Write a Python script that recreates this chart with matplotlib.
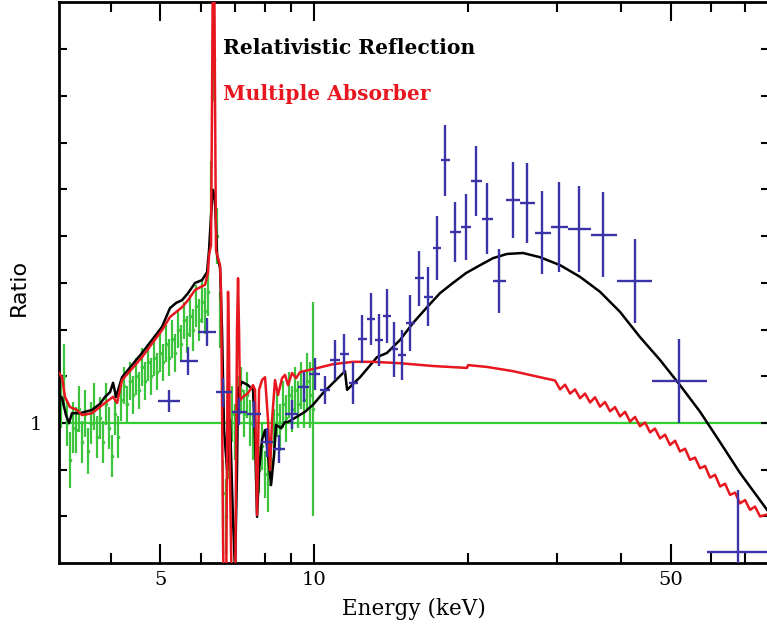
import numpy as np
import matplotlib
matplotlib.use("Agg")
import matplotlib.pyplot as plt
from matplotlib.ticker import FixedLocator, FixedFormatter, NullFormatter

# ---------------- data ----------------
# XMM-like green ratio data (3-10 keV)
green_E = [3.19, 3.234, 3.278, 3.323, 3.369, 3.414, 3.461, 3.508, 3.556, 3.605,
           3.654, 3.704, 3.754, 3.806, 3.858, 3.910, 3.963, 4.018, 4.073, 4.128,
           4.185, 4.242, 4.299, 4.358, 4.418, 4.477, 4.539, 4.600, 4.663, 4.727,
           4.791, 4.857, 4.923, 4.989, 5.058, 5.127, 5.196, 5.267, 5.339, 5.412,
           5.486, 5.561, 5.637, 5.714, 5.791, 5.870, 5.950, 6.032, 6.114, 6.197,
           6.281, 6.367, 6.454, 6.542, 6.632, 6.722, 6.813, 6.906, 7.001, 7.096,
           7.193, 7.291, 7.390, 7.491, 7.593, 7.697, 7.802, 7.908, 8.016, 8.125,
           8.236, 8.348, 8.462, 8.577, 8.694, 8.813, 8.933, 9.055, 9.178, 9.304,
           9.431, 9.559, 9.690, 9.822, 9.955]
green_ratio = [1.04, 1.10, 1.00, 0.92, 0.99, 0.985, 1.03, 0.96, 1.02, 0.94,
               1.00, 1.035, 0.97, 1.01, 0.96, 1.04, 0.99, 0.93, 1.02, 0.97,
               1.05, 1.08, 1.04, 1.09, 1.06, 1.10, 1.07, 1.12, 1.09, 1.13,
               1.10, 1.14, 1.11, 1.15, 1.13, 1.17, 1.14, 1.18, 1.15, 1.20,
               1.17, 1.22, 1.19, 1.23, 1.20, 1.25, 1.22, 1.26, 1.24, 1.28,
               1.50, 1.78, 1.40, 1.22, 0.85, 0.80, 0.95, 1.02, 0.98, 1.05,
               1.07, 1.02, 1.06, 1.00, 0.97, 0.93, 0.90, 0.95, 0.89, 0.87,
               0.92, 0.98, 1.02, 0.99, 1.04, 1.01, 1.06, 1.03, 1.07, 1.04,
               1.08, 1.05, 1.09, 1.06, 1.03]
green_err = [0.05, 0.07, 0.05, 0.06, 0.055, 0.05, 0.05, 0.045, 0.05, 0.05,
             0.045, 0.05, 0.045, 0.045, 0.045, 0.045, 0.045, 0.045, 0.045, 0.045,
             0.045, 0.04, 0.04, 0.04, 0.04, 0.04, 0.04, 0.04, 0.04, 0.04,
             0.04, 0.04, 0.04, 0.04, 0.04, 0.04, 0.04, 0.04, 0.04, 0.04,
             0.04, 0.04, 0.04, 0.045, 0.045, 0.045, 0.045, 0.045, 0.05, 0.05,
             0.06, 0.09, 0.06, 0.06, 0.07, 0.08, 0.07, 0.06, 0.06, 0.05,
             0.05, 0.05, 0.05, 0.05, 0.05, 0.05, 0.05, 0.05, 0.05, 0.06,
             0.05, 0.05, 0.05, 0.05, 0.05, 0.05, 0.05, 0.05, 0.05, 0.05,
             0.05, 0.06, 0.06, 0.07, 0.23]

# NuSTAR-like blue ratio data
blue_E = [5.20, 5.66, 6.17, 6.63, 7.13, 7.63, 8.09, 8.54, 9.06, 9.56,
          10.05, 10.51, 11.0, 11.45, 11.92, 12.42, 12.94, 13.41, 13.90, 14.35,
          14.88, 15.43, 16.07, 16.73, 17.43, 18.07, 18.91, 19.86, 20.78, 21.84,
          23.06, 24.56, 26.17, 28.0, 30.22, 33.08, 36.87, 42.6, 51.96, 67.8]
blue_edges = [4.944, 5.462, 5.923, 6.424, 6.905, 7.389, 7.873, 8.310, 8.773, 9.303,
              9.777, 10.27, 10.75, 11.25, 11.71, 12.20, 12.70, 13.17, 13.66, 14.16,
              14.61, 15.15, 15.78, 16.43, 17.12, 17.74, 18.48, 19.42, 20.32, 21.35,
              22.44, 23.80, 25.35, 27.13, 29.15, 31.48, 34.93, 39.28, 46.0, 58.96, 77.7]
blue_ratio = [1.047, 1.133, 1.195, 1.066, 1.024, 1.019, 0.959, 0.944, 1.019, 1.077,
              1.105, 1.071, 1.135, 1.148, 1.086, 1.180, 1.223, 1.178, 1.229, 1.158,
              1.146, 1.214, 1.310, 1.270, 1.375, 1.563, 1.409, 1.420, 1.518, 1.437,
              1.304, 1.478, 1.471, 1.407, 1.420, 1.415, 1.403, 1.304, 1.090, 0.724]
blue_err = [0.024, 0.030, 0.030, 0.031, 0.029, 0.029, 0.031, 0.030, 0.031, 0.032,
            0.035, 0.030, 0.042, 0.043, 0.045, 0.051, 0.055, 0.055, 0.057, 0.059,
            0.053, 0.060, 0.059, 0.063, 0.068, 0.076, 0.064, 0.071, 0.075, 0.076,
            0.068, 0.081, 0.086, 0.089, 0.096, 0.092, 0.091, 0.089, 0.090, 0.133]

# Relativistic reflection model (black)
refl_E = [3.162, 3.205, 3.263, 3.308, 3.353, 3.477, 3.671, 3.806, 3.892, 3.981,
          4.036, 4.091, 4.203, 4.397, 4.600, 4.813, 5.035, 5.219, 5.363, 5.511,
          5.662, 5.844, 6.032, 6.170, 6.225, 6.281, 6.339, 6.396, 6.454, 6.542,
          6.601, 6.662, 6.753, 6.844, 6.937, 7.001, 7.063, 7.096, 7.225, 7.423,
          7.593, 7.662, 7.732, 7.802, 7.908, 8.016, 8.125, 8.236, 8.348, 8.424,
          8.617, 8.773, 8.892, 9.178, 9.602, 9.955, 10.41, 10.90, 11.50, 11.61,
          12.31, 13.29, 13.90, 14.75, 15.63, 16.66, 17.66, 18.73, 19.86, 21.17,
          22.44, 23.90, 25.70, 27.74, 30.37, 33.23, 36.37, 39.81, 43.56, 47.69,
          52.19, 57.14, 62.53, 68.44, 77.32]
refl_ratio = [1.060, 1.054, 1.017, 1.000, 1.021, 1.021, 1.028, 1.041, 1.056, 1.066,
              1.086, 1.056, 1.098, 1.124, 1.150, 1.178, 1.206, 1.246, 1.257, 1.263,
              1.278, 1.300, 1.306, 1.323, 1.370, 1.445, 1.499, 1.478, 1.360, 1.332,
              1.199, 0.985, 0.899, 1.006, 0.792, 0.685, 0.899, 1.071, 1.088, 1.081,
              1.071, 0.964, 0.799, 0.899, 0.964, 0.985, 0.931, 0.867, 0.931, 0.996,
              0.989, 1.002, 1.002, 1.011, 1.024, 1.039, 1.064, 1.086, 1.111, 1.071,
              1.098, 1.141, 1.150, 1.178, 1.214, 1.248, 1.278, 1.300, 1.321, 1.338,
              1.353, 1.362, 1.364, 1.355, 1.338, 1.313, 1.281, 1.238, 1.184, 1.135,
              1.081, 1.024, 0.959, 0.893, 0.814]

# Multiple absorber model (red), smooth part
absb_E = [3.162, 3.205, 3.249, 3.323, 3.430, 3.508, 3.671, 3.892, 4.036, 4.110,
          4.203, 4.600, 5.035, 5.219, 5.511, 5.662, 5.844, 6.114, 6.197, 6.225,
          6.281, 6.310, 6.339, 6.367, 6.396, 6.424, 6.483, 6.542, 6.571, 6.601,
          6.632, 6.662, 6.722, 6.753, 6.783, 6.813, 6.844, 6.906, 7.001, 7.063,
          7.096, 7.128, 7.160, 7.258, 7.423, 7.593, 7.662, 7.732, 7.802, 7.908,
          8.016, 8.125, 8.199, 8.273, 8.385, 8.500, 8.656, 8.773, 8.892, 9.055,
          9.220, 9.388, 9.732, 10.18, 10.90, 11.92, 13.05, 14.75, 17.12, 19.86,
          19.95, 20.05, 21.84, 24.56, 27.74]
absb_ratio = [1.107, 1.098, 1.056, 1.034, 1.028, 1.017, 1.021, 1.043, 1.056, 1.043,
              1.092, 1.141, 1.199, 1.227, 1.248, 1.263, 1.285, 1.296, 1.323, 1.360,
              1.381, 1.692, 2.05, 2.05, 1.692, 1.370, 1.353, 1.338, 1.285, 1.049,
              0.749, 0.60, 0.60, 0.942, 1.281, 1.156, 0.878, 0.60, 0.60, 1.199,
              1.310, 1.199, 1.049, 1.056, 1.064, 1.081, 1.071, 0.803, 1.071, 1.092,
              1.098, 1.006, 0.899, 1.006, 1.092, 1.060, 1.096, 1.103, 1.081, 1.107,
              1.096, 1.109, 1.113, 1.118, 1.126, 1.131, 1.131, 1.128, 1.122, 1.118,
              1.118, 1.124, 1.120, 1.111, 1.098]
# Multiple absorber model (red), jagged high-energy part
absb_hi_E = [29.69, 30.37, 31.06, 31.77, 32.49, 33.23, 33.99, 34.77, 35.56, 36.37,
             37.20, 38.05, 38.92, 39.81, 40.72, 41.65, 42.60, 43.56, 44.57, 45.59,
             46.62, 47.69, 48.78, 49.89, 51.04, 52.19, 53.39, 54.61, 55.85, 57.14,
             58.44, 59.77, 61.14, 62.53, 63.96, 65.42, 66.91, 68.44, 70.00, 71.60,
             73.23, 74.90, 77.32]
absb_hi_ratio = [1.091, 1.072, 1.082, 1.063, 1.072, 1.053, 1.063, 1.044, 1.055, 1.035,
                 1.045, 1.025, 1.034, 1.014, 1.024, 1.003, 1.013, 0.993, 1.001, 0.980,
                 0.988, 0.967, 0.975, 0.953, 0.962, 0.939, 0.945, 0.921, 0.926, 0.903,
                 0.908, 0.883, 0.889, 0.864, 0.870, 0.846, 0.851, 0.828, 0.835, 0.814,
                 0.821, 0.800, 0.804]

x_major = [5, 10, 50]
x_major_labels = ["5", "10", "50"]
x_minor = [4, 6, 7, 8, 9, 20, 30, 40, 60, 70]
y_ticks = [0.8, 0.9, 1.1, 1.2, 1.3, 1.4, 1.5, 1.6, 1.7, 1.8]

# ---------------- style ----------------
GREEN = "#3cc43c"
LINE_GREEN = "#2fd02f"
RED = "#e8161e"
BLUE = "#3b33a8"

W, H = 767, 628
fig = plt.figure(figsize=(W / 100, H / 100), dpi=100)
ax = fig.add_axes([59 / W, 65 / H, 710 / W, 561 / H])
ax.set_xscale("log")
ax.set_xlim(3.162, 78.0)
ax.set_ylim(0.7002, 1.9015)

ax.axhline(1.0, color=LINE_GREEN, lw=1.6, zorder=1)

ax.errorbar(green_E, green_ratio, yerr=green_err, fmt="o", ms=1.6,
            color=GREEN, ecolor=GREEN, elinewidth=1.6, capsize=0, zorder=2)
ax.plot(refl_E, refl_ratio, color="black", lw=1.8, zorder=3)
ax.plot(list(absb_E) + list(absb_hi_E), list(absb_ratio) + list(absb_hi_ratio),
        color=RED, lw=1.8, zorder=4)

bE = np.array(blue_E)
edges = np.array(blue_edges)
xlo = bE - edges[:-1]
xhi = edges[1:] - bE
ax.errorbar(bE, blue_ratio, yerr=blue_err, xerr=[xlo, xhi], fmt="none",
            ecolor=BLUE, elinewidth=1.7, capsize=0, zorder=5)

# ticks
ax.xaxis.set_major_locator(FixedLocator(x_major))
ax.xaxis.set_major_formatter(FixedFormatter(x_major_labels))
ax.xaxis.set_minor_locator(FixedLocator(x_minor))
ax.xaxis.set_minor_formatter(NullFormatter())
ax.yaxis.set_major_locator(FixedLocator([1.0]))
ax.yaxis.set_major_formatter(FixedFormatter(["1"]))
ax.yaxis.set_minor_locator(FixedLocator(y_ticks))
ax.yaxis.set_minor_formatter(NullFormatter())
ax.tick_params(which="both", direction="in", top=True, right=True, color="black")
ax.tick_params(axis="x", which="major", length=14, width=1.5, pad=6)
ax.tick_params(axis="x", which="minor", length=7, width=1.5)
ax.tick_params(axis="y", which="both", length=6, width=1.5, pad=12)
for lab in ax.get_xticklabels() + ax.get_yticklabels():
    lab.set_fontfamily("DejaVu Serif")
    lab.set_fontsize(14)
for sp in ax.spines.values():
    sp.set_linewidth(2)

fig.text(414 / W, 1 - 609 / H, "Energy (keV)", family="DejaVu Serif",
         fontsize=15.5, ha="center", va="center")
fig.text(19 / W, 1 - 287 / H, "Ratio", family="DejaVu Sans", fontsize=16,
         rotation=90, ha="center", va="center")

ax.text(223 / W, 1 - 48 / H, "Relativistic Reflection", transform=fig.transFigure,
        family="DejaVu Serif", fontsize=14.6, fontweight="bold", color="black",
        ha="left", va="center")
ax.text(223 / W, 1 - 94 / H, "Multiple Absorber", transform=fig.transFigure,
        family="DejaVu Serif", fontsize=14.6, fontweight="bold", color=RED,
        ha="left", va="center")

fig.savefig("out.png", dpi=100)
